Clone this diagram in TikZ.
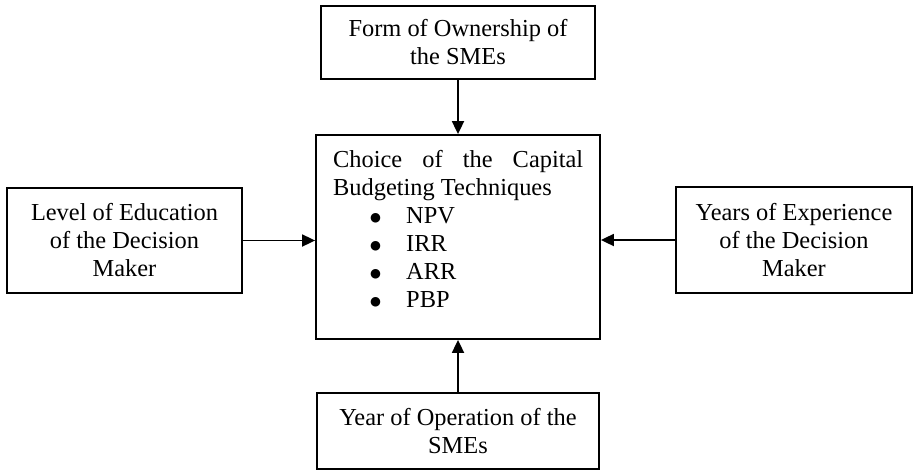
\documentclass[tikz,border=0pt]{standalone}
\usepackage{fontspec}
\setmainfont{Liberation Serif}
\newfontfamily\symfont{DejaVu Sans}
\usetikzlibrary{arrows.meta}
\newcommand{\bigbul}{\makebox[36pt][l]{\raisebox{1.5pt}{\symfont\fontsize{12.5}{12.5}\selectfont ●}}}
\begin{document}
\begin{tikzpicture}[x=1pt,y=-1pt,
  box/.style={draw, line width=1.8pt, inner sep=0pt, align=center,
              font=\fontsize{24.4}{28}\selectfont},
  arr/.style={line width=1.8pt, -{Triangle[length=13pt,width=12pt]}}]
\useasboundingbox (0,0) rectangle (914,471);
\node[box, minimum width=274pt, minimum height=73pt] (own) at (458,42.5) {Form of Ownership of\\the SMEs};
\node[box, minimum width=284pt, minimum height=204pt] (choice) at (458,237) {};
\node[anchor=base west, inner sep=0pt, font=\fontsize{24.4}{28}\selectfont] (choicetext) at (333,167)
  {\parbox[t]{250pt}{\fontsize{24.4}{28}\selectfont
   \makebox[250pt][s]{Choice of the Capital}\\
   Budgeting Techniques\\
   \hspace*{37pt}\bigbul NPV\\
   \hspace*{37pt}\bigbul IRR\\
   \hspace*{37pt}\bigbul ARR\\
   \hspace*{37pt}\bigbul PBP}};
\node[box, minimum width=282pt, minimum height=76pt] (oper) at (458,431) {Year of Operation of the\\SMEs};
\node[box, minimum width=235pt, minimum height=105pt] (edu) at (124.5,240.5) {Level of Education\\of the Decision\\Maker};
\node[box, minimum width=236pt, minimum height=106pt] (exp) at (794,240) {Years of Experience\\of the Decision\\Maker};
\draw[arr] (own.south) -- (own.south |- choice.north);
\draw[arr] (oper.north) -- (oper.north |- choice.south);
\draw[arr] (edu.east) -- (edu.east -| choice.west);
\draw[arr] (exp.west) -- (exp.west -| choice.east);
\end{tikzpicture}
\end{document}
